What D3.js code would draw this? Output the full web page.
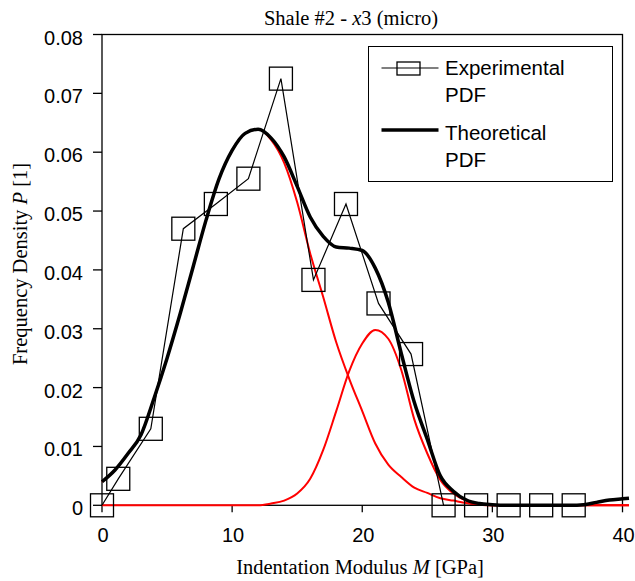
<!DOCTYPE html>
<html>
<head>
<meta charset="utf-8">
<script src="https://cdn.jsdelivr.net/npm/d3@7"></script>
<style>
  body { margin: 0; background: #fff; }
  .tick-label { font-family: "Liberation Sans", Arial, sans-serif; font-size: 20px; fill: #000; }
  .legend-label { font-family: "Liberation Sans", Arial, sans-serif; font-size: 20.5px; fill: #000; }
  .serif { font-family: "Liberation Serif", "Times New Roman", serif; font-size: 20.5px; fill: #000; }
</style>
</head>
<body>
<div id="chart"></div>
<script>
// experimental histogram (bin centres, 2.5 GPa bins)
const expX = [0, 1.25, 3.75, 6.25, 8.75, 11.25, 13.75, 16.25, 18.75, 21.25, 23.75, 26.25, 28.75, 31.25, 33.75, 36.25];
const expY = [0, 0.0045, 0.013, 0.047, 0.0512, 0.0555, 0.0725, 0.0383, 0.0512, 0.0343, 0.0257, 0, 0, 0, 0, 0];

// theoretical curves, every 1 GPa
const theoryX = [0, 1, 2, 3, 4, 5, 6, 7, 8, 9, 10, 11, 12, 13, 14, 15, 16, 17, 18, 19, 20,
  21, 22, 23, 24, 25, 26, 27, 28, 29, 30, 31, 32, 33, 34, 35, 36, 37, 38, 39, 40, 40.5];
const theoryTotal = [0.0040, 0.0060, 0.0088, 0.0120, 0.0182, 0.0250, 0.0325, 0.0405, 0.0485, 0.0555, 0.0603,
  0.0632, 0.0639, 0.0624, 0.0592, 0.0542, 0.0490, 0.0457, 0.0439, 0.0437, 0.0433,
  0.0403, 0.0345, 0.0258, 0.0175, 0.0112, 0.0050, 0.0024, 0.0009, 0.0003, 0.0001,
  0, 0, 0, 0, 0, 0, 0.0001, 0.0005, 0.0009, 0.0011, 0.0012];
const phase1 = [0.0040, 0.0060, 0.0088, 0.0120, 0.0182, 0.0250, 0.0325, 0.0405, 0.0485, 0.0555, 0.0603,
  0.0632, 0.0639, 0.0621, 0.0582, 0.0515, 0.0428, 0.0354, 0.0277, 0.0215, 0.0160,
  0.0105, 0.0069, 0.0048, 0.0030, 0.0021, 0.0012, 0.0008, 0.0004, 0.0001, 0,
  0, 0, 0, 0, 0, 0, 0, 0, 0, 0, 0];
const phase2 = [0, 0, 0, 0, 0, 0, 0, 0, 0, 0, 0,
  0, 0, 0.0003, 0.0008, 0.0020, 0.0045, 0.0094, 0.0160, 0.0228, 0.0275,
  0.0298, 0.0283, 0.0230, 0.0146, 0.0088, 0.0043, 0.0020, 0.0008, 0.0002, 0,
  0, 0, 0, 0, 0, 0, 0, 0, 0, 0, 0];

const xTicks = [0, 10, 20, 30, 40];
const yTicks = [0, 0.01, 0.02, 0.03, 0.04, 0.05, 0.06, 0.07, 0.08];

const width = 635;
const height = 581;

const svg = d3.select('#chart')
  .append('svg')
    .attr('width', width)
    .attr('height', height)
    .attr('viewBox', [0, 0, width, height]);

const x = d3.scaleLinear().domain([0, 40]).range([102, 622.5]);
const y = d3.scaleLinear().domain([0, 0.08]).range([505.3, 34.5]);

// frame
svg.append('rect')
  .attr('x', x(0))
  .attr('y', y(0.08))
  .attr('width', x(40) - x(0))
  .attr('height', y(0) - y(0.08))
  .attr('fill', 'none')
  .attr('stroke', '#000')
  .attr('stroke-width', 1.3);

// y ticks
svg.selectAll('.ytick')
  .data(yTicks)
  .join('line')
    .attr('x1', x(0) - 9)
    .attr('x2', x(0))
    .attr('y1', d => y(d))
    .attr('y2', d => y(d))
    .attr('stroke', '#000')
    .attr('stroke-width', 1.3);

svg.selectAll('.ylab')
  .data(yTicks)
  .join('text')
    .attr('class', 'tick-label')
    .attr('x', 83)
    .attr('y', d => y(d) + 10)
    .attr('text-anchor', 'end')
    .text(d => d === 0 ? '0' : d.toFixed(2));

// x ticks
svg.selectAll('.xtick')
  .data(xTicks)
  .join('line')
    .attr('x1', d => x(d))
    .attr('x2', d => x(d))
    .attr('y1', y(0))
    .attr('y2', y(0) + 7)
    .attr('stroke', '#000')
    .attr('stroke-width', 1.3);

svg.selectAll('.xlab')
  .data(xTicks)
  .join('text')
    .attr('class', 'tick-label')
    .attr('x', d => x(d) + 1)
    .attr('y', 542)
    .attr('text-anchor', 'middle')
    .text(d => d);

// curves
const curveLine = ys => d3.line()
  .x((d, i) => x(theoryX[i]))
  .y(d => y(d))
  .curve(d3.curveMonotoneX)(ys);

[phase1, phase2].forEach(ys => {
  svg.append('path')
    .attr('d', curveLine(ys))
    .attr('fill', 'none')
    .attr('stroke', '#ff0000')
    .attr('stroke-width', 2);
});

svg.append('path')
  .attr('d', curveLine(theoryTotal))
  .attr('fill', 'none')
  .attr('stroke', '#000')
  .attr('stroke-width', 3.5)
  .attr('stroke-linejoin', 'round');

// experimental
const expLine = d3.line()
  .x((d, i) => x(expX[i]))
  .y(d => y(d));

svg.append('path')
  .attr('d', expLine(expY))
  .attr('fill', 'none')
  .attr('stroke', '#000')
  .attr('stroke-width', 1.2);

const sq = 23;
svg.selectAll('.marker')
  .data(expY)
  .join('rect')
    .attr('x', (d, i) => x(expX[i]) - sq / 2)
    .attr('y', d => y(d) - sq / 2)
    .attr('width', sq)
    .attr('height', sq)
    .attr('fill', 'none')
    .attr('stroke', '#000')
    .attr('stroke-width', 1.3);

// legend
const legend = svg.append('g');
legend.append('rect')
  .attr('x', 368.5)
  .attr('y', 46.5)
  .attr('width', 244)
  .attr('height', 135)
  .attr('fill', '#fff')
  .attr('stroke', '#000')
  .attr('stroke-width', 1);

legend.append('line')
  .attr('x1', 381.5).attr('x2', 438.5)
  .attr('y1', 68).attr('y2', 68)
  .attr('stroke', '#000')
  .attr('stroke-width', 1.2);
legend.append('rect')
  .attr('x', 397).attr('y', 62)
  .attr('width', 23).attr('height', 13)
  .attr('fill', 'none')
  .attr('stroke', '#000')
  .attr('stroke-width', 1.3);

legend.append('line')
  .attr('x1', 381.5).attr('x2', 438.5)
  .attr('y1', 130).attr('y2', 130)
  .attr('stroke', '#000')
  .attr('stroke-width', 3.5);

const legendRows = [['Experimental', 75], ['PDF', 102], ['Theoretical', 140], ['PDF', 167]];
legend.selectAll('text')
  .data(legendRows)
  .join('text')
    .attr('class', 'legend-label')
    .attr('x', 445)
    .attr('y', d => d[1])
    .text(d => d[0]);

// title and axis titles
const title = svg.append('text')
  .attr('class', 'serif')
  .attr('x', 351)
  .attr('y', 25)
  .attr('text-anchor', 'middle');
title.append('tspan').text('Shale #2 - ');
title.append('tspan').attr('font-style', 'italic').text('x');
title.append('tspan').text('3 (micro)');

const xTitle = svg.append('text')
  .attr('class', 'serif')
  .attr('x', 360)
  .attr('y', 574)
  .attr('text-anchor', 'middle');
xTitle.append('tspan').text('Indentation Modulus ');
xTitle.append('tspan').attr('font-style', 'italic').text('M');
xTitle.append('tspan').text(' [GPa]');

const yTitle = svg.append('text')
  .attr('class', 'serif')
  .attr('transform', 'translate(27,264) rotate(-90)')
  .attr('text-anchor', 'middle');
yTitle.append('tspan').text('Frequency Density ');
yTitle.append('tspan').attr('font-style', 'italic').text('P');
yTitle.append('tspan').text(' [1]');
</script>
</body>
</html>
